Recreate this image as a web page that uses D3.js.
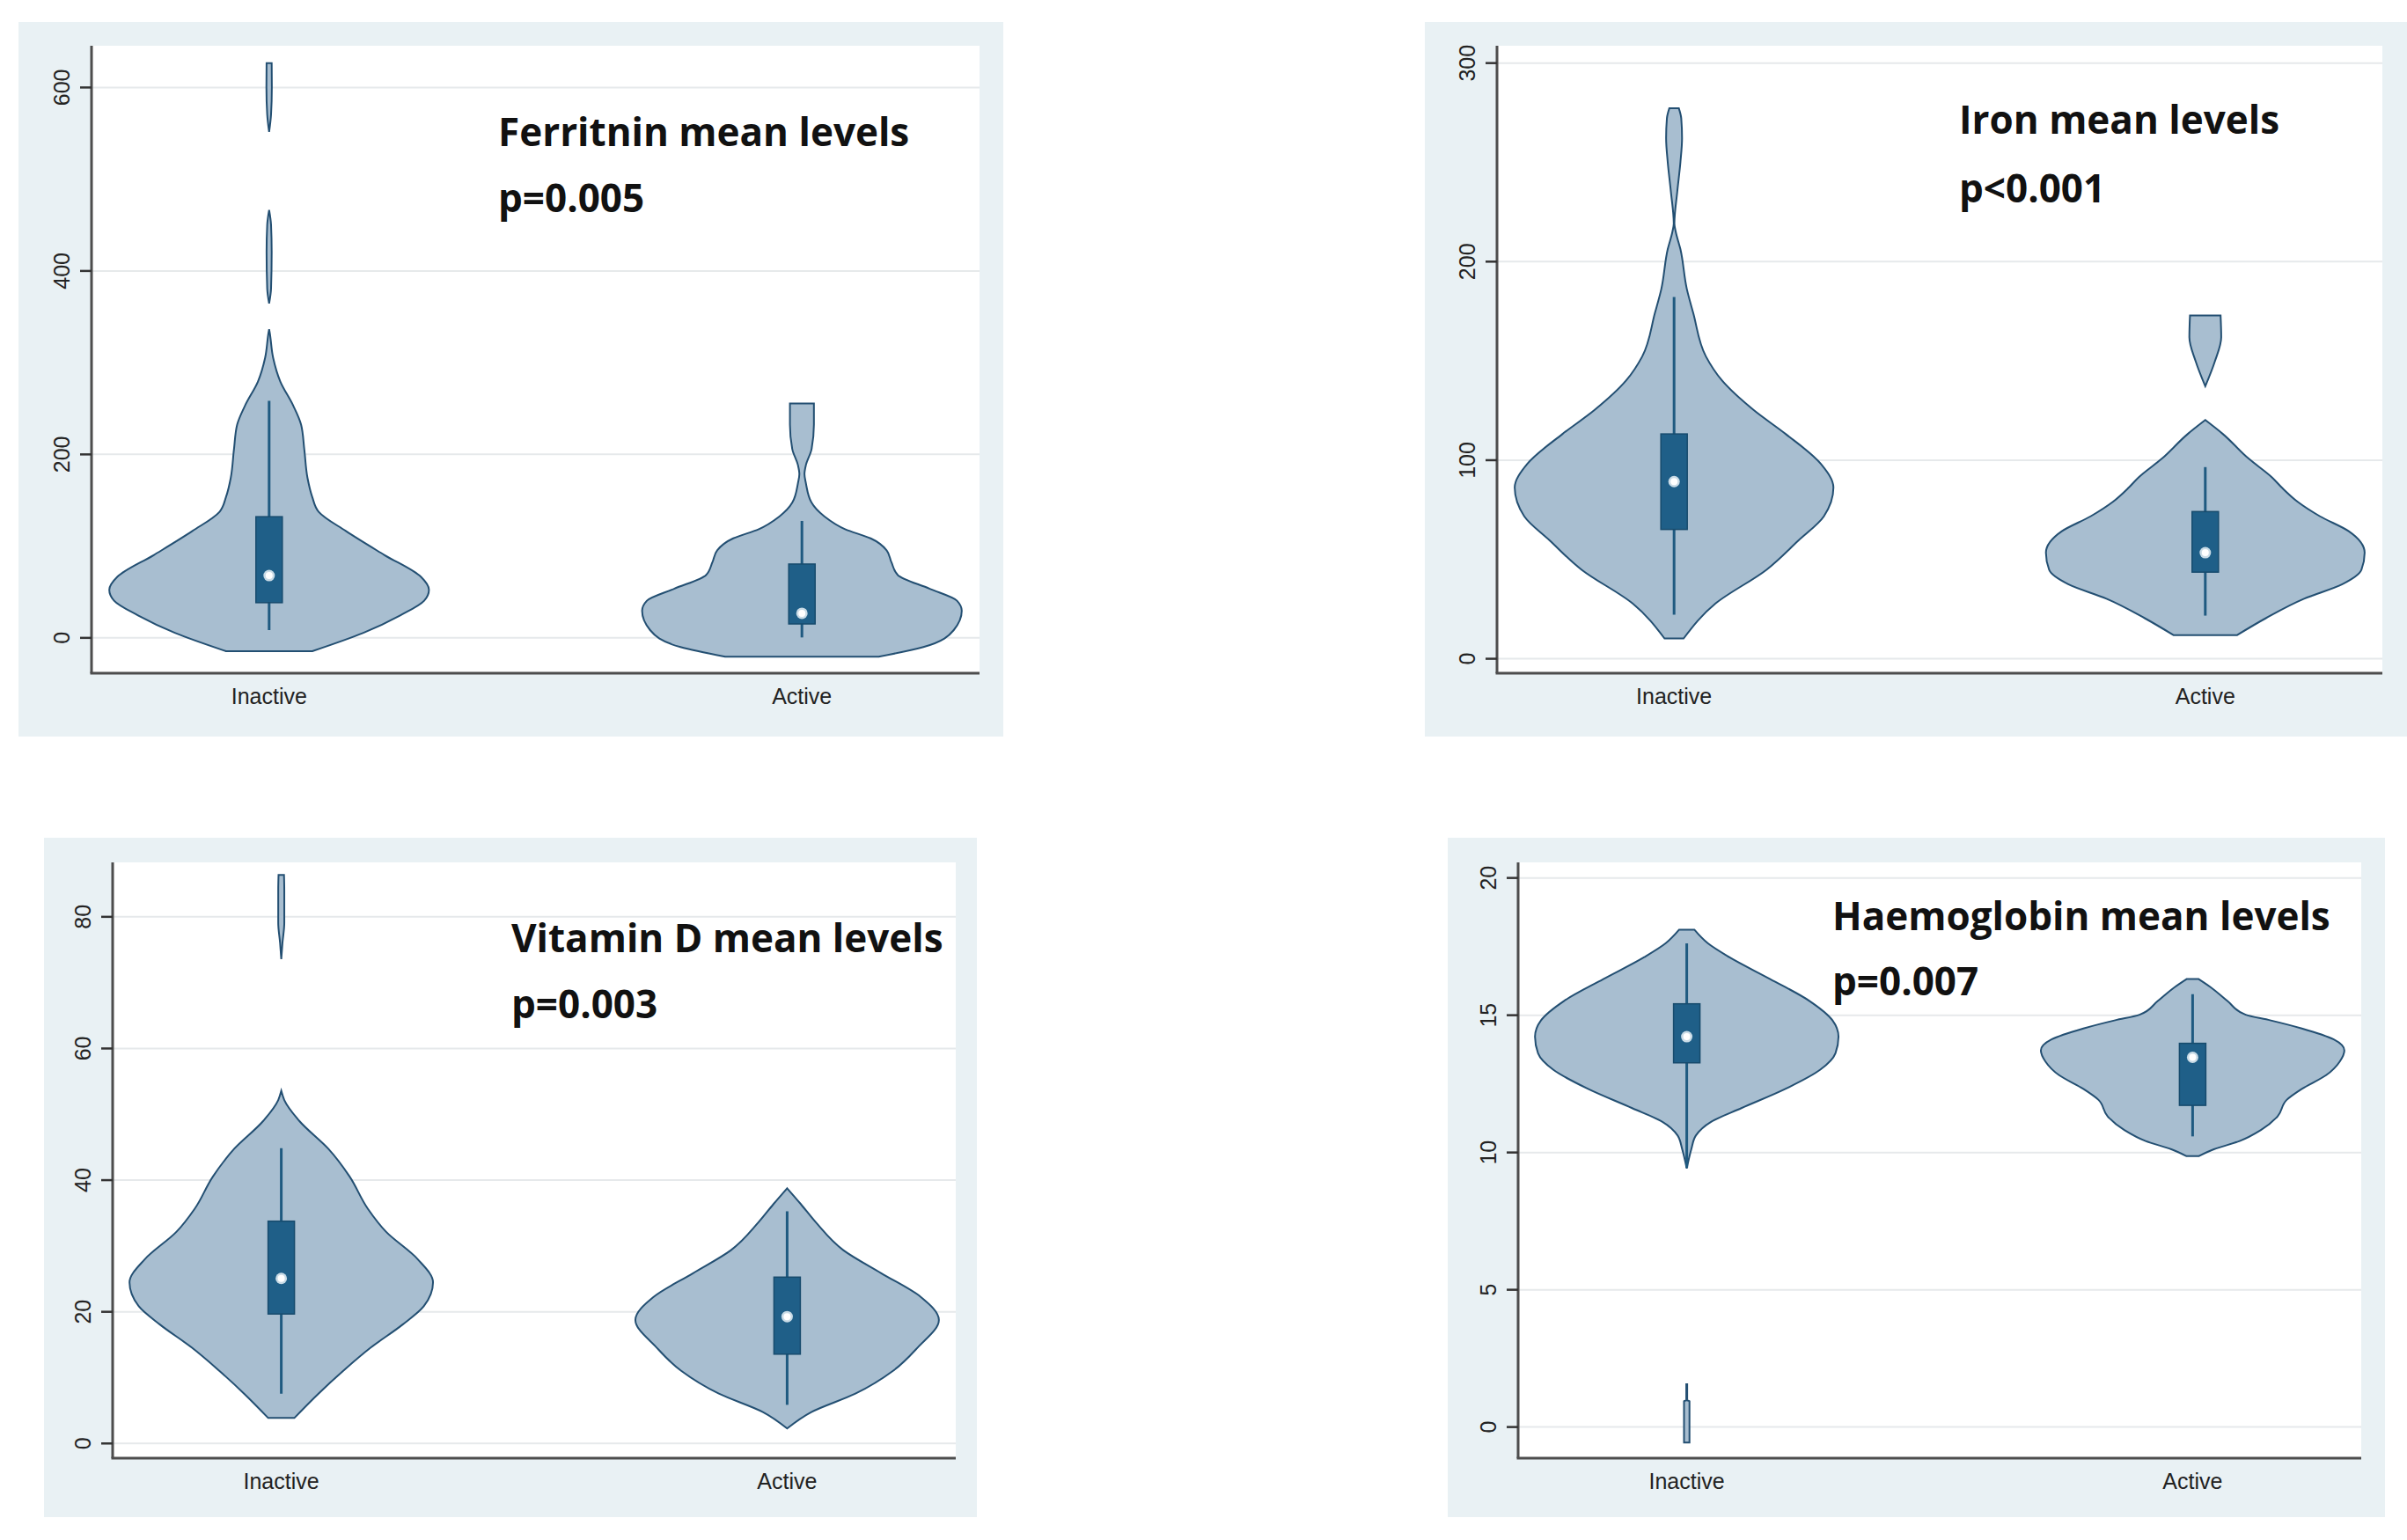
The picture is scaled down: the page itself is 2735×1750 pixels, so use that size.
<!DOCTYPE html>
<html>
<head>
<meta charset="utf-8">
<script src="https://cdn.jsdelivr.net/npm/d3@7"></script>
<style>
  body { margin: 0; background: #fff; }
  .tick-label { font-family: 'Liberation Sans', Arial, sans-serif; font-size: 25px; fill: #222; }
  .note { font-family: 'Open Sans', sans-serif; font-weight: 700; font-size: 44px; fill: #111; }
</style>
</head>
<body>
<script>
const groups = ['Inactive', 'Active']

// violin outlines: [value, relative half-width], split into separate pieces
const ferritinTicks = [0, 200, 400, 600]
const ferritinInactive = [
  [[-15, 0.27], [5, 0.59], [24, 0.82], [40, 0.97], [52, 1.0], [66, 0.95], [90, 0.72], [116, 0.48],
   [137, 0.31], [153, 0.27], [174, 0.24], [205, 0.22], [232, 0.2], [253, 0.15], [279, 0.07],
   [305, 0.025], [332, 0.004], [336, 0]],
  [[364, 0], [380, 0.012], [420, 0.016], [450, 0.012], [466, 0]],
  [[551, 0], [570, 0.012], [600, 0.017], [626, 0.016]]
]
const ferritinActive = [
  [[-21, 0.48], [-10.5, 0.76], [8, 0.95], [29, 1.0], [40, 0.97], [53, 0.8], [68, 0.6], [82, 0.56],
   [95, 0.53], [108, 0.43], [118, 0.27], [132, 0.14], [147, 0.06], [168, 0.025], [178, 0.016],
   [188, 0.025], [205, 0.06], [232, 0.075], [255, 0.075]]
]
const ferritinBoxes = [
  { lo: 7.9, q1: 37.9, med: 67.4, q3: 131.6, hi: 258 },
  { lo: 0, q1: 14.7, med: 26.3, q3: 80, hi: 127 }
]

const ironTicks = [0, 100, 200, 300]
const ironInactive = [
  [[10, 0.06], [27.6, 0.26], [44.6, 0.58], [59.3, 0.78], [71.5, 0.94], [86, 1.0], [98, 0.92],
   [113, 0.7], [125, 0.5], [140, 0.3], [152, 0.2], [174, 0.12], [186, 0.08], [206, 0.04],
   [215, 0.01], [219, 0.002], [235, 0.02], [250, 0.04], [262, 0.05], [272, 0.045], [277, 0.03]]
]
const ironActive = [
  [[11.7, 0.2], [20.2, 0.38], [30, 0.62], [37.3, 0.86], [44.6, 0.98], [53.2, 1.0], [64, 0.9],
   [71.5, 0.72], [78.8, 0.58], [86, 0.48], [91, 0.42], [100.7, 0.27], [113, 0.11], [120, 0]],
  [[137, 0], [149.5, 0.06], [161.7, 0.1], [172.7, 0.096]]
]
const ironBoxes = [
  { lo: 22, q1: 64.9, med: 89, q3: 113, hi: 182 },
  { lo: 21.5, q1: 43.4, med: 53.2, q3: 73.9, hi: 96.3 }
]

const vitdTicks = [0, 20, 40, 60, 80]
const vitdInactive = [
  [[3.8, 0.086], [7.5, 0.245], [11, 0.41], [14.5, 0.59], [18, 0.8], [20.8, 0.94], [24.4, 1.0],
   [27.9, 0.9], [32.1, 0.69], [35.6, 0.57], [40.5, 0.45], [44.7, 0.31], [48.9, 0.12], [52.1, 0.02],
   [53.5, 0]],
  [[73.5, 0], [76, 0.008], [79, 0.02], [84, 0.02], [86.3, 0.018]]
]
const vitdActive = [
  [[2.2, 0], [4.7, 0.16], [7.5, 0.45], [11, 0.7], [14.5, 0.86], [18.7, 1.0], [22.2, 0.88],
   [25.8, 0.62], [29.3, 0.37], [33.5, 0.19], [36.3, 0.09], [38.7, 0]]
]
const vitdBoxes = [
  { lo: 7.5, q1: 19.6, med: 25, q3: 33.7, hi: 44.8 },
  { lo: 5.8, q1: 13.5, med: 19.2, q3: 25.2, hi: 35.2 }
]

const hbTicks = [0, 5, 10, 15, 20]
const hbInactive = [
  [[9.4, 0], [10.1, 0.03], [10.6, 0.06], [11.1, 0.16], [11.6, 0.36], [12.3, 0.65], [13.0, 0.88],
   [13.6, 0.98], [14.2, 1.0], [14.8, 0.96], [15.5, 0.81], [16.3, 0.55], [17.1, 0.28], [17.6, 0.14],
   [18.1, 0.05]],
  [[-0.58, 0.018], [0.93, 0.018], [0.95, 0.003], [1.54, 0.003]]
]
const hbActive = [
  [[9.85, 0.04], [10.1, 0.14], [10.4, 0.31], [10.8, 0.45], [11.3, 0.56], [11.9, 0.62], [12.3, 0.72],
   [12.8, 0.88], [13.3, 0.97], [13.7, 1.0], [14.1, 0.93], [14.5, 0.72], [14.8, 0.51], [15.0, 0.35],
   [15.5, 0.23], [16.0, 0.12], [16.3, 0.04]]
]
const hbBoxes = [
  { lo: 9.43, q1: 13.25, med: 14.2, q3: 15.4, hi: 17.6 },
  { lo: 10.57, q1: 11.7, med: 13.45, q3: 13.96, hi: 15.75 }
]

const panels = [
  {
    title: 'Ferritnin mean levels', p: 'p=0.005', ticks: ferritinTicks, domain: [-39, 645],
    violins: [ferritinInactive, ferritinActive], boxes: ferritinBoxes,
    bg: { x: 21, y: 25, w: 1119, h: 812 }, plot: { x: 104, y: 52, w: 1009, h: 713 },
    note: { dx: 462, dy1: 114, dy2: 189 }
  },
  {
    title: 'Iron mean levels', p: 'p<0.001', ticks: ironTicks, domain: [-7.5, 308.5],
    violins: [ironInactive, ironActive], boxes: ironBoxes,
    bg: { x: 1619, y: 25, w: 1116, h: 812 }, plot: { x: 1701, y: 52, w: 1006, h: 713 },
    note: { dx: 525, dy1: 100, dy2: 178 }
  },
  {
    title: 'Vitamin D mean levels', p: 'p=0.003', ticks: vitdTicks, domain: [-2.3, 88.2],
    violins: [vitdInactive, vitdActive], boxes: vitdBoxes,
    bg: { x: 50, y: 952, w: 1060, h: 772 }, plot: { x: 128, y: 980, w: 958, h: 677 },
    note: { dx: 453, dy1: 102, dy2: 177 }
  },
  {
    title: 'Haemoglobin mean levels', p: 'p=0.007', ticks: hbTicks, domain: [-1.15, 20.55],
    violins: [hbInactive, hbActive], boxes: hbBoxes,
    bg: { x: 1645, y: 952, w: 1065, h: 772 }, plot: { x: 1725, y: 980, w: 958, h: 677 },
    note: { dx: 357, dy1: 77, dy2: 151 }
  }
]

const svg = d3
  .select('body')
  .append('svg')
  .attr('width', 2735)
  .attr('height', 1750)

panels.forEach(drawPanel)

function drawPanel(p) {
  const g = svg.append('g')

  g.append('rect')
    .attr('x', p.bg.x)
    .attr('y', p.bg.y)
    .attr('width', p.bg.w)
    .attr('height', p.bg.h)
    .attr('fill', '#e9f1f4')

  const width = p.plot.w
  const height = p.plot.h
  const plot = g.append('g').attr('transform', `translate(${p.plot.x},${p.plot.y})`)

  plot.append('rect')
    .attr('width', width)
    .attr('height', height)
    .attr('fill', '#fff')

  const xPositionScale = d3.scalePoint().domain(groups).range([0, width]).padding(1 / 3)
  const yPositionScale = d3.scaleLinear().domain(p.domain).range([height, 0])
  const widthScale = d3.scaleLinear().domain([0, 1]).range([0, width * 0.18])

  // gridlines
  plot.append('g')
    .attr('class', 'grid')
    .call(d3.axisLeft(yPositionScale).tickValues(p.ticks).tickSize(-width).tickFormat(''))
    .call(s => s.select('.domain').remove())
    .call(s => s.selectAll('line').attr('stroke', '#e6e9eb').attr('stroke-width', 2))

  // violins
  groups.forEach((grp, i) => {
    const cx = xPositionScale(grp)
    const area = d3.area()
      .curve(d3.curveMonotoneY)
      .y(d => yPositionScale(d[0]))
      .x0(d => cx - widthScale(d[1]))
      .x1(d => cx + widthScale(d[1]))

    plot.selectAll(null)
      .data(p.violins[i])
      .enter()
      .append('path')
      .attr('d', area)
      .attr('fill', '#a8bed0')
      .attr('stroke', '#234f72')
      .attr('stroke-width', 2)

    const b = p.boxes[i]
    plot.append('line')
      .attr('x1', cx)
      .attr('x2', cx)
      .attr('y1', yPositionScale(b.lo))
      .attr('y2', yPositionScale(b.hi))
      .attr('stroke', '#1f5a80')
      .attr('stroke-width', 3)

    plot.append('rect')
      .attr('x', cx - 15)
      .attr('width', 30)
      .attr('y', yPositionScale(b.q3))
      .attr('height', yPositionScale(b.q1) - yPositionScale(b.q3))
      .attr('fill', '#1f5f88')
      .attr('stroke', '#174b6d')
      .attr('stroke-width', 1.5)

    plot.append('circle')
      .attr('cx', cx)
      .attr('cy', yPositionScale(b.med))
      .attr('r', 6.5)
      .attr('fill', '#c9dbe6')
    plot.append('circle')
      .attr('cx', cx)
      .attr('cy', yPositionScale(b.med))
      .attr('r', 4)
      .attr('fill', '#fff')
  })

  // y axis
  const yAxis = d3.axisLeft(yPositionScale).tickValues(p.ticks).tickSize(13).tickSizeOuter(0)
  plot.append('g')
    .attr('class', 'axis y-axis')
    .call(yAxis)
    .call(s => s.select('.domain').attr('stroke', '#4d4d4d').attr('stroke-width', 3)
      .attr('d', `M0,0V${height}`))
    .call(s => s.selectAll('.tick line').attr('stroke', '#333').attr('stroke-width', 2.5))
    .call(s => s.selectAll('.tick text')
      .attr('class', 'tick-label')
      .attr('fill', null)
      .attr('transform', 'rotate(-90)')
      .attr('x', 0)
      .attr('y', -25)
      .attr('dy', 0)
      .attr('text-anchor', 'middle'))
  plot.select('.y-axis').attr('font-size', null).attr('font-family', null)

  // x axis
  plot.append('line')
    .attr('x1', -1.5)
    .attr('x2', width)
    .attr('y1', height)
    .attr('y2', height)
    .attr('stroke', '#4d4d4d')
    .attr('stroke-width', 3)

  plot.selectAll('.x-label')
    .data(groups)
    .enter()
    .append('text')
    .attr('class', 'tick-label x-label')
    .attr('text-anchor', 'middle')
    .attr('x', d => xPositionScale(d))
    .attr('y', height + 35)
    .text(d => d)

  plot.append('text')
    .attr('class', 'note')
    .attr('x', p.note.dx)
    .attr('y', p.note.dy1)
    .text(p.title)
  plot.append('text')
    .attr('class', 'note')
    .attr('x', p.note.dx)
    .attr('y', p.note.dy2)
    .text(p.p)
}
</script>
</body>
</html>
